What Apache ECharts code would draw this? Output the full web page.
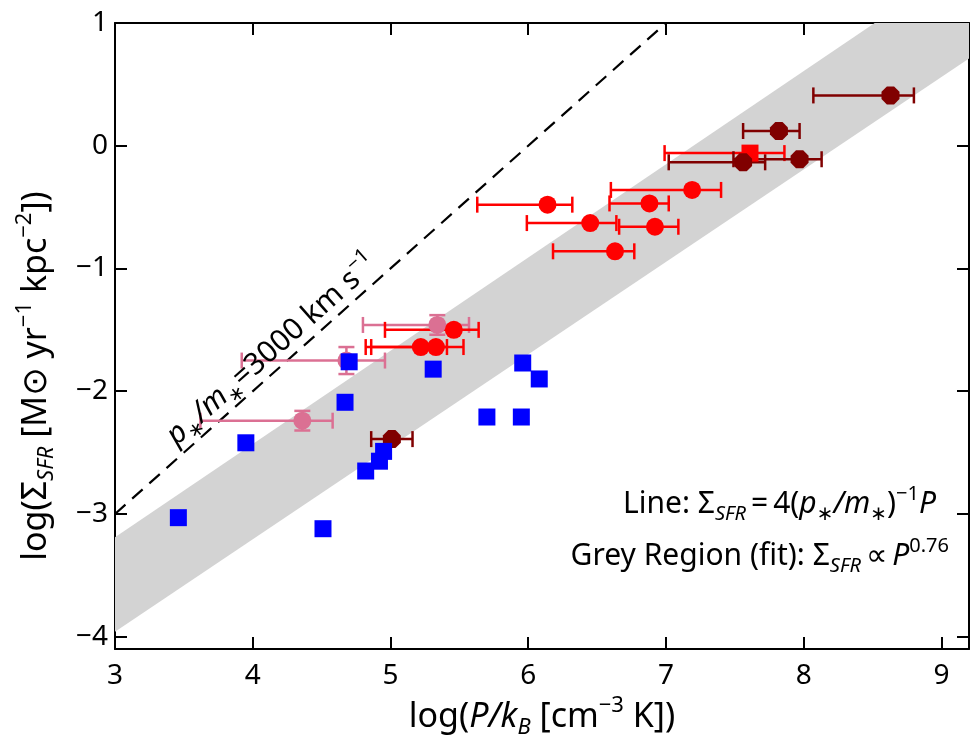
<!DOCTYPE html>
<html style="height: 100%">
<head>
<meta charset="utf-8">
<script src="https://cdn.jsdelivr.net/npm/echarts@6/dist/echarts.min.js"></script>
</head>
<body style="height: 100%; margin: 0; background: #fff">
<div id="container" style="width: 971px; height: 751px"></div>
<script>
// axis ticks
var xTicks = [3, 4, 5, 6, 7, 8, 9];
var yTicks = [-4, -3, -2, -1, 0, 1];

// blue squares
var blueX = [3.46, 3.95, 4.51, 4.67, 4.70, 4.82, 4.92, 4.95, 5.31, 5.70, 5.95, 5.96, 6.08];
var blueY = [-3.03, -2.42, -3.12, -2.09, -1.76, -2.65, -2.57, -2.49, -1.82, -2.21, -2.21, -1.77, -1.90];

// red circles with horizontal error bars
var redX   = [5.22, 5.33, 5.46, 6.14, 6.45, 6.63, 6.88, 6.92, 7.19];
var redY   = [-1.64, -1.64, -1.50, -0.48, -0.63, -0.86, -0.47, -0.66, -0.36];
var redXLo = [4.82, 4.86, 4.96, 5.63, 5.99, 6.18, 6.59, 6.66, 6.60];
var redXHi = [5.41, 5.53, 5.64, 6.32, 6.64, 6.77, 7.02, 7.09, 7.40];

// red square
var redSqX = [7.61], redSqY = [-0.06], redSqXLo = [6.99], redSqXHi = [7.86];

// dark red points
var darkX   = [5.01, 7.56, 7.82, 7.97, 8.63];
var darkY   = [-2.39, -0.135, 0.12, -0.11, 0.41];
var darkXLo = [4.86, 7.02, 7.56, 7.49, 8.07];
var darkXHi = [5.16, 7.72, 7.97, 8.13, 8.80];

// pink points with x and y error bars
var pinkX   = [4.36, 4.68, 5.34];
var pinkY   = [-2.24, -1.75, -1.46];
var pinkXLo = [3.62, 3.92, 4.80];
var pinkXHi = [4.58, 4.96, 5.57];
var pinkYLo = [-2.32, -1.86, -1.54];
var pinkYHi = [-2.16, -1.64, -1.38];

// dashed line p*/m* = 3000 km/s
var lineX = [3, 7];
var lineY = [-3, 1];

// grey band edges
var bandX    = [3, 9.2];
var bandLow  = [-3.96, 0.71];
var bandHigh = [-3.19, 1.52];

var FONT = 'Noto Sans, DejaVu Sans, sans-serif';

function zip(a, b) {
  return a.map(function (v, i) { return [v, b[i]]; });
}

function errData(x, y, xlo, xhi, ylo, yhi) {
  return x.map(function (v, i) {
    return [v, y[i], xlo[i], xhi[i], ylo ? ylo[i] : y[i], yhi ? yhi[i] : y[i]];
  });
}

function errSeries(data, color) {
  return {
    type: 'custom',
    data: data,
    encode: { x: 0, y: 1 },
    z: 3,
    silent: true,
    renderItem: function (params, api) {
      var x = api.value(0), y = api.value(1);
      var lo = api.coord([api.value(2), y]);
      var hi = api.coord([api.value(3), y]);
      var st = { stroke: color, lineWidth: 2.5 };
      var c = 8;
      var kids = [
        { type: 'line', shape: { x1: lo[0], y1: lo[1], x2: hi[0], y2: hi[1] }, style: st },
        { type: 'line', shape: { x1: lo[0], y1: lo[1] - c, x2: lo[0], y2: lo[1] + c }, style: st },
        { type: 'line', shape: { x1: hi[0], y1: hi[1] - c, x2: hi[0], y2: hi[1] + c }, style: st }
      ];
      if (api.value(4) !== y) {
        var b = api.coord([x, api.value(4)]);
        var t = api.coord([x, api.value(5)]);
        kids.push(
          { type: 'line', shape: { x1: b[0], y1: b[1], x2: t[0], y2: t[1] }, style: st },
          { type: 'line', shape: { x1: b[0] - c, y1: b[1], x2: b[0] + c, y2: b[1] }, style: st },
          { type: 'line', shape: { x1: t[0] - c, y1: t[1], x2: t[0] + c, y2: t[1] }, style: st }
        );
      }
      return { type: 'group', children: kids };
    }
  };
}

var minus = function (v) { return v < 0 ? '\u2212' + (-v) : '' + v; };

function makeRich(big, small, lh) {
  return {
    n: { fontSize: big, fontFamily: FONT, color: '#000', lineHeight: lh },
    i: { fontSize: big, fontFamily: FONT, color: '#000', fontStyle: 'italic', lineHeight: lh },
    s: { fontSize: small, fontFamily: FONT, color: '#000', fontStyle: 'italic', verticalAlign: 'bottom', lineHeight: small + 4 },
    p: { fontSize: small, fontFamily: FONT, color: '#000', verticalAlign: 'top', lineHeight: small + 4 }
  };
}
var richA = makeRich(30, 20, 40);
var richT = makeRich(34, 22, 44);

function axisBase(extra) {
  var a = {
    type: 'value',
    axisLine: { onZero: false, lineStyle: { color: '#000', width: 2 } },
    splitLine: { show: false },
    axisTick: { inside: true, length: 12, lineStyle: { color: '#000', width: 2 } },
    axisLabel: { color: '#000', fontSize: 28, fontFamily: FONT, formatter: minus }
  };
  for (var k in extra) a[k] = extra[k];
  return a;
}

var chart = echarts.init(document.getElementById('container'));
chart.setOption({
  animation: false,
  backgroundColor: '#fff',
  grid: { left: 115, right: 2, top: 23, bottom: 102 },
  xAxis: [
    axisBase({
      min: 3, max: 9.2, position: 'bottom',
      axisTick: { inside: true, length: 12, customValues: xTicks, lineStyle: { color: '#000', width: 2 } },
      axisLabel: { color: '#000', fontSize: 28, fontFamily: FONT, margin: 13, customValues: xTicks, formatter: minus },
      name: '{n|log(}{i|P/k}{s|B}{n| [cm}{p|\u22123}{n| K])}',
      nameLocation: 'middle', nameGap: 44,
      nameTextStyle: { rich: richT }
    }),
    axisBase({
      min: 3, max: 9.2, position: 'top',
      axisTick: { inside: true, length: 12, customValues: xTicks, lineStyle: { color: '#000', width: 2 } },
      axisLabel: { show: false }
    })
  ],
  yAxis: [
    axisBase({
      min: -4.1, max: 1, position: 'left',
      axisTick: { inside: true, length: 12, customValues: yTicks, lineStyle: { color: '#000', width: 2 } },
      axisLabel: { color: '#000', fontSize: 28, fontFamily: FONT, margin: 7, customValues: yTicks, formatter: minus }
    }),
    axisBase({
      min: -4.1, max: 1, position: 'right',
      axisTick: { inside: true, length: 12, customValues: yTicks, lineStyle: { color: '#000', width: 2 } },
      axisLabel: { show: false }
    })
  ],
  series: [
    {
      type: 'custom',
      silent: true,
      clip: true,
      z: 1,
      data: bandX.map(function (v, i) { return [v, bandLow[i], bandHigh[i]]; }),
      encode: { x: 0, y: 1 },
      renderItem: function (params, api) {
        if (params.dataIndex !== 0) return null;
        var pts = [];
        for (var i = 0; i < bandX.length; i++) pts.push(api.coord([bandX[i], bandLow[i]]));
        for (var j = bandX.length - 1; j >= 0; j--) pts.push(api.coord([bandX[j], bandHigh[j]]));
        return { type: 'polygon', shape: { points: pts }, style: { fill: '#d3d3d3' } };
      }
    },
    {
      type: 'line',
      data: zip(lineX, lineY),
      symbol: 'none',
      silent: true,
      z: 2,
      lineStyle: { color: '#000', width: 2.2, type: [14, 9] }
    },
    errSeries(errData(pinkX, pinkY, pinkXLo, pinkXHi, pinkYLo, pinkYHi), '#db7093'),
    {
      type: 'scatter', data: zip(pinkX, pinkY), symbol: 'circle', symbolSize: 18, z: 4,
      itemStyle: { color: '#db7093', opacity: 1 }
    },
    errSeries(errData(redSqX, redSqY, redSqXLo, redSqXHi), '#ff0000'),
    {
      type: 'scatter', data: zip(redSqX, redSqY), symbol: 'rect', symbolSize: 17, z: 4,
      itemStyle: { color: '#ff0000', opacity: 1 }
    },
    errSeries(errData(redX, redY, redXLo, redXHi), '#ff0000'),
    {
      type: 'scatter', data: zip(redX, redY), symbol: 'circle', symbolSize: 18, z: 4,
      itemStyle: { color: '#ff0000', opacity: 1 }
    },
    errSeries(errData(darkX, darkY, darkXLo, darkXHi), '#800000'),
    {
      type: 'scatter', data: zip(darkX, darkY), z: 5,
      symbol: 'path://M3,0 L7,0 L10,3 L10,7 L7,10 L3,10 L0,7 L0,3 Z', symbolSize: 18,
      itemStyle: { color: '#800000', opacity: 1 }
    },
    {
      type: 'scatter', data: zip(blueX, blueY), symbol: 'rect', symbolSize: 17, z: 6,
      itemStyle: { color: '#0000ff', opacity: 1 }
    }
  ],
  graphic: [
    {
      type: 'text', x: 36, y: 376, rotation: Math.PI / 2, z: 10,
      style: {
        text: '{n|log(\u03a3}{s|SFR}{n| [M\u2299 yr}{p|\u22121}{n| kpc}{p|\u22122}{n|])}',
        rich: richT, align: 'center', verticalAlign: 'middle'
      }
    },
    {
      type: 'text', x: 272, y: 350, rotation: 41.6 * Math.PI / 180, z: 10,
      style: {
        text: '{i|p}{s|\u2217}{i|/m}{s|\u2217}{n|=3000 km s}{p|\u22121}',
        rich: richA, align: 'center', verticalAlign: 'middle'
      }
    },
    {
      type: 'text', x: 936, y: 504, z: 10,
      style: {
        text: '{n|Line: \u03a3}{s|SFR}{n|\u2009=\u20094(}{i|p}{s|\u2217}{i|/m}{s|\u2217}{n|)}{p|\u22121}{i|P}',
        rich: richA, align: 'right', verticalAlign: 'middle'
      }
    },
    {
      type: 'text', x: 949, y: 556, z: 10,
      style: {
        text: '{n|Grey Region (fit): \u03a3}{s|SFR}{n|\u2009\u221d\u2009}{i|P}{p|0.76}',
        rich: richA, align: 'right', verticalAlign: 'middle'
      }
    }
  ]
});
</script>
</body>
</html>
